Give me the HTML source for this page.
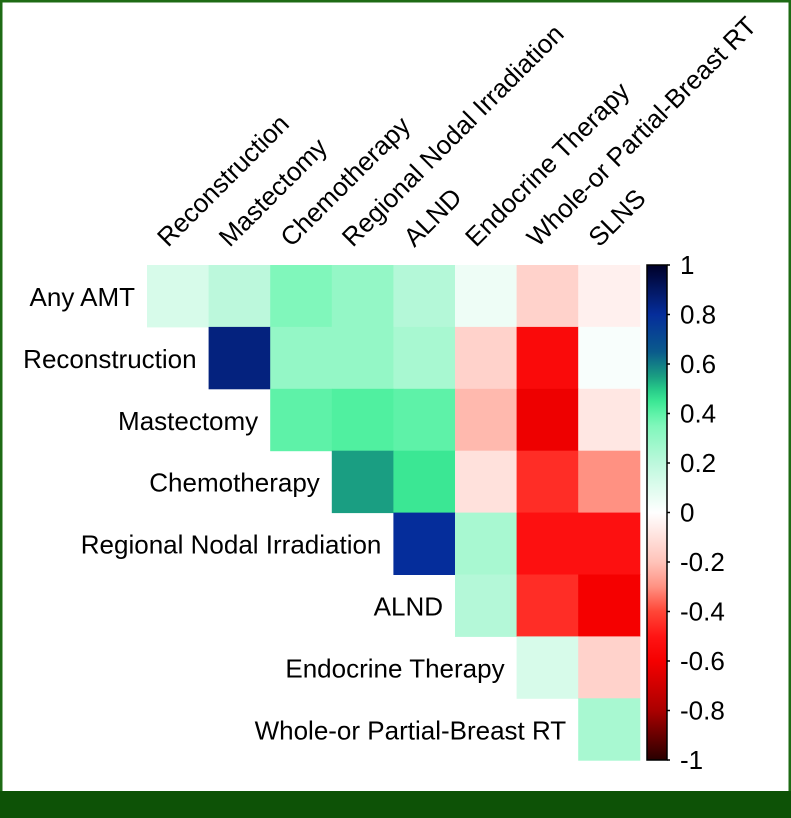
<!DOCTYPE html>
<html><head><meta charset="utf-8"><style>
html,body{margin:0;padding:0;background:#fff}
#wrap{position:relative;width:791px;height:818px;overflow:hidden}
svg{display:block}
text{font-family:"Liberation Sans",sans-serif;font-size:26px;fill:#000}
</style></head><body>
<div id="wrap">
<svg id="chart" width="791" height="818"></svg>
</div>
<script>
const categories=["Any AMT","Reconstruction","Mastectomy","Chemotherapy","Regional Nodal Irradiation","ALND","Endocrine Therapy","Whole-or Partial-Breast RT","SLNS"];
const rowLabels=categories.slice(0,8);
const colLabels=categories.slice(1);
const row0=[0.12,0.2,0.35,0.3,0.22,0.05,-0.15,-0.05];
const row1=[0.85,0.3,0.3,0.25,-0.15,-0.55,0.02];
const row2=[0.4,0.42,0.4,-0.22,-0.62,-0.08];
const row3=[0.55,0.45,-0.1,-0.45,-0.3];
const row4=[0.8,0.25,-0.52,-0.52];
const row5=[0.22,-0.45,-0.6];
const row6=[0.12,-0.15];
const row7=[0.25];
const rows=[row0,row1,row2,row3,row4,row5,row6,row7];
const ticks=[1,0.8,0.6,0.4,0.2,0,-0.2,-0.4,-0.6,-0.8,-1];
const tickLabels=["1","0.8","0.6","0.4","0.2","0","-0.2","-0.4","-0.6","-0.8","-1"];

const NS="http://www.w3.org/2000/svg";
const svg=document.getElementById('chart');
function mk(t,a,p){const e=document.createElementNS(NS,t);for(const k in a)e.setAttribute(k,a[k]);(p||svg).appendChild(e);return e;}
const X0=147,Y0=265,CW=61.6,CH=61.9;
const xs=i=>X0+i*CW, ys=i=>Y0+i*CH;
const cbTop=265,cbBot=760,cbX=647,cbW=20;
const yc=v=>cbTop+(1-v)/2*(cbBot-cbTop);
const stops=[[-1,[40,0,0]],[-0.8,[170,0,0]],[-0.6,[245,0,0]],[-0.5,[255,20,20]],[-0.4,[255,70,55]],[-0.3,[255,145,130]],[-0.2,[255,195,185]],[0,[255,255,255]],[0.2,[188,248,220]],[0.35,[128,247,187]],[0.42,[80,240,160]],[0.47,[45,225,140]],[0.55,[26,158,130]],[0.65,[10,90,140]],[0.8,[5,45,155]],[1,[0,0,40]]];
function color(v){for(let i=0;i<stops.length-1;i++){const[a,ca]=stops[i],[b,cb]=stops[i+1];if(v<=b){const t=(v-a)/(b-a);return'rgb('+ca.map((c,j)=>Math.round(c+(cb[j]-c)*t)).join(',')+')';}}return 'rgb(0,0,40)';}

const f1=mk('rect',{x:1,y:1,width:789,height:816,fill:'none',stroke:'#1e6b14','stroke-width':3});


const band=mk('rect',{x:0,y:791,width:791,height:27,fill:'#0d5206'});



rows.forEach((r,ri)=>{r.forEach((v,k)=>{const ci=ri+k;
  const c=mk('rect',{x:xs(ci),y:ys(ri),width:CW+0.5,height:CH+0.5,fill:color(v)});
  
  
});});
rowLabels.forEach((l,i)=>{
  const t=mk('text',{x:xs(i)-12,y:ys(i)+CH/2+10,'text-anchor':'end'});t.textContent=l;
  
  
});
colLabels.forEach((l,i)=>{
  const x=xs(i)+21,y=248;
  const t=mk('text',{x:x,y:y,transform:'rotate(-45 '+x+' '+y+')'});t.textContent=l;
  
  
});
const defs=mk('defs',{});
const g=mk('linearGradient',{id:'cb',x1:0,y1:0,x2:0,y2:1},defs);
for(let i=0;i<=40;i++){const v=1-i/20;mk('stop',{offset:(i/40),'stop-color':color(v)},g);}
const cb=mk('rect',{x:cbX,y:cbTop,width:cbW,height:cbBot-cbTop,fill:'url(#cb)',stroke:'#000','stroke-width':1.5});


ticks.forEach((v,i)=>{
  mk('line',{x1:cbX+cbW,x2:cbX+cbW+3,y1:yc(v),y2:yc(v),stroke:'#000','stroke-width':1.5});
  const t=mk('text',{x:680,y:yc(v)+9});t.textContent=tickLabels[i];
  
  
});
</script>
</body></html>
